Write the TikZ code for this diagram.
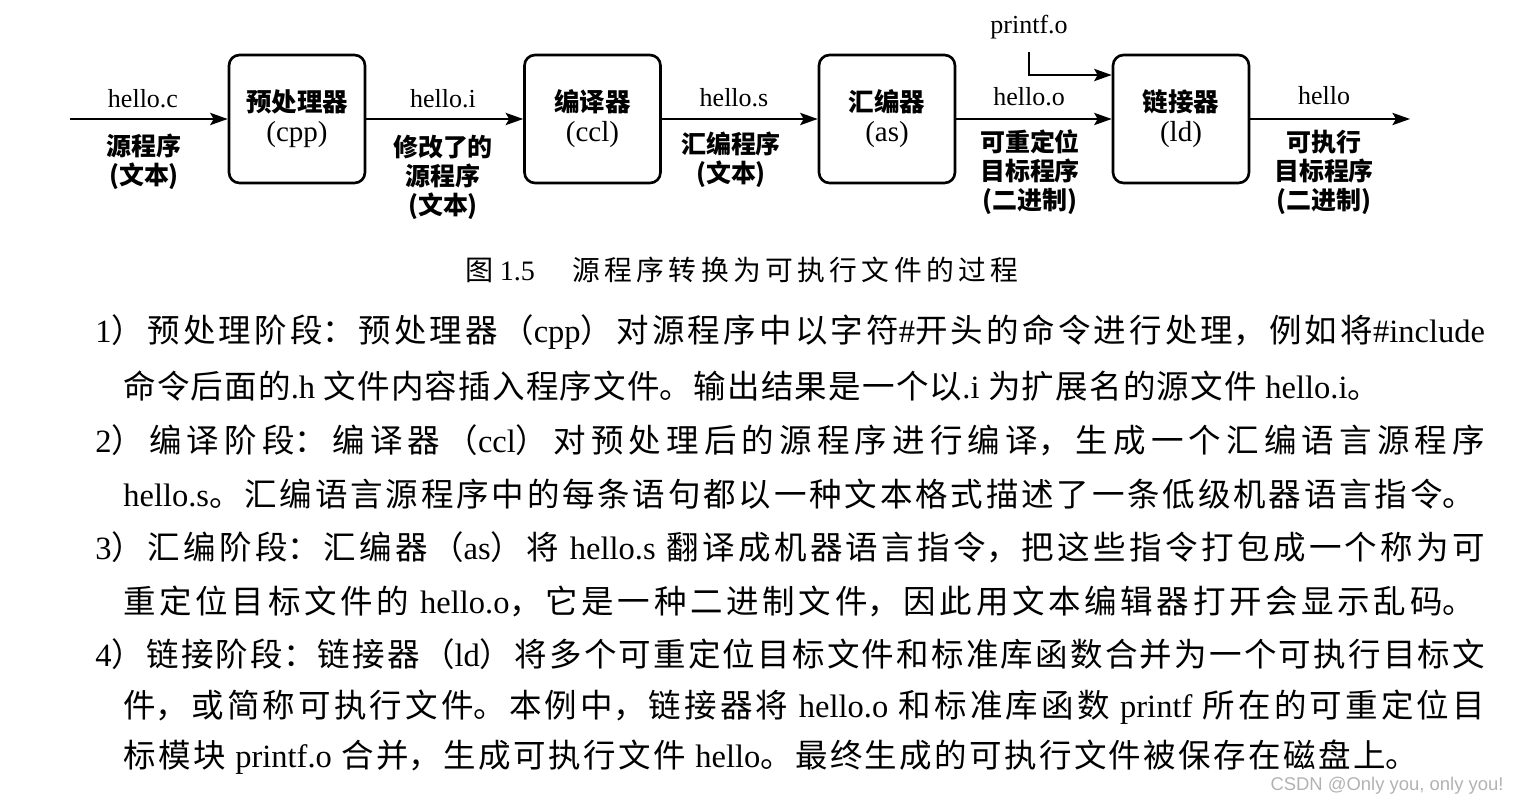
\documentclass[tikz,border=0pt]{standalone}
\usepackage{fontspec}
\setmainfont{Noto Sans CJK SC}
\newfontfamily\en{Liberation Serif}
\newfontfamily\wm{Liberation Sans}
\XeTeXlinebreaklocale "zh"
\XeTeXlinebreakskip=0pt plus 2pt
\usetikzlibrary{arrows.meta,positioning}
\newcommand\jline[2]{\parbox{#1}{\parindent=0pt\parfillskip=0pt\tolerance=10000\hbadness=10000\relax #2}}
\newcommand\tool[1]{{\en\mdseries\fontsize{16.5}{17}\selectfont (#1)}}

\begin{document}
\begin{tikzpicture}[x=0.02cm, y=-0.02cm,
    stage/.style={rectangle, draw, line width=1.5pt, rounded corners=6pt,
                  minimum width=2.72cm, minimum height=2.56cm, align=center,
                  font=\fontsize{14.5}{17}\selectfont\bfseries},
    file/.style={inner sep=0pt, font=\fontsize{14.8}{17}\selectfont\en},
    note/.style={align=center, inner sep=0pt, font=\fontsize{14.2}{16.5}\selectfont\bfseries},
    flow/.style={-{Stealth[length=10pt,width=7pt,inset=2pt]}, line width=1.1pt},
    txt/.style={anchor=west, inner sep=0pt, font=\fontsize{18.5}{22}\selectfont}
]
    \useasboundingbox (0,0) rectangle (1520,794);

    % Stages
    \node[stage] (cpp) at (297,119) {预处理器\\\tool{cpp}};
    \node[stage] (ccl) at (592.5,119) {编译器\\\tool{ccl}};
    \node[stage] (as) at (887,119) {汇编器\\\tool{as}};
    \node[stage] (ld) at (1181,119) {链接器\\\tool{ld}};

    % Files
    \coordinate (src) at (70,119);
    \coordinate (exe) at (1410,119);
    \node[file] (helloc) at (143,99) {hello.c};
    \node[file] (helloi) at (443,99) {hello.i};
    \node[file] (hellos) at (734,98) {hello.s};
    \node[file] (helloo) at (1029,97) {hello.o};
    \node[file] (hello) at (1324,96) {hello};
    \node[file] (printf) at (1029,27) {printf.o};

    \node[note] (srcnote) at (144,162) {源程序\\(文本)};
    \node[note] (modnote) at (443,177) {修改了的\\源程序\\(文本)};
    \node[note] (asmnote) at (731,160) {汇编程序\\(文本)};
    \node[note] (objnote) at (1030,172) {可重定位\\目标程序\\(二进制)};
    \node[note] (exenote) at (1324,172) {可执行\\目标程序\\(二进制)};

    % Arrows
    \draw[flow] (src) -- (cpp);
    \draw[flow] (cpp) -- (ccl);
    \draw[flow] (ccl) -- (as);
    \draw[flow] (as) -- (ld);
    \draw[flow] (ld) -- (exe);
    \draw[flow] ([yshift=-0.26cm]printf.south) |- ([yshift=0.88cm]ld.west);

    % Caption
    \node[anchor=west, inner sep=0pt, font=\fontsize{16}{19}\selectfont] (fignum) at (465,270) {图 {\en 1.5}};
    \node[anchor=west, inner sep=0pt, font=\fontsize{15.8}{19}\selectfont] (figtitle) at (572,270)
        {\jline{8.92cm}{源程序转换为可执行文件的过程}};

    % Text
    \node[txt] (l1) at (95,332) {\jline{27.8cm}{{\en 1}）预处理阶段：预处理器（{\en cpp}）对源程序中以字符{\en \#}开头的命令进行处理，例如将{\en \#include}}};
    \node[txt] (l2) at (123,386) {\jline{25.14cm}{命令后面的{\en .h} 文件内容插入程序文件。输出结果是一个以{\en .i} 为扩展名的源文件 {\en hello.i}。}};
    \node[txt] (l3) at (95,440) {\jline{27.8cm}{{\en 2}）编译阶段：编译器（{\en ccl}）对预处理后的源程序进行编译，生成一个汇编语言源程序}};
    \node[txt] (l4) at (123,494) {\jline{27.04cm}{{\en hello.s}。汇编语言源程序中的每条语句都以一种文本格式描述了一条低级机器语言指令。}};
    \node[txt] (l5) at (95,547) {\jline{27.8cm}{{\en 3}）汇编阶段：汇编器（{\en as}）将 {\en hello.s} 翻译成机器语言指令，把这些指令打包成一个称为可}};
    \node[txt] (l6) at (123,601) {\jline{27.04cm}{重定位目标文件的 {\en hello.o}，它是一种二进制文件，因此用文本编辑器打开会显示乱码。}};
    \node[txt] (l7) at (95,654) {\jline{27.8cm}{{\en 4}）链接阶段：链接器（{\en ld}）将多个可重定位目标文件和标准库函数合并为一个可执行目标文}};
    \node[txt] (l8) at (123,707) {\jline{27.24cm}{件，或简称可执行文件。本例中，链接器将 {\en hello.o} 和标准库函数 {\en printf} 所在的可重定位目}};
    \node[txt] (l9) at (123,757) {\jline{25.9cm}{标模块 {\en printf.o} 合并，生成可执行文件 {\en hello}。最终生成的可执行文件被保存在磁盘上。}};

    % Watermark
    \node[inner sep=0pt, text=gray!60, font=\wm\fontsize{10.5}{12}\selectfont] (mark) at (1387,786) {CSDN @Only you, only you!};
\end{tikzpicture}
\end{document}
